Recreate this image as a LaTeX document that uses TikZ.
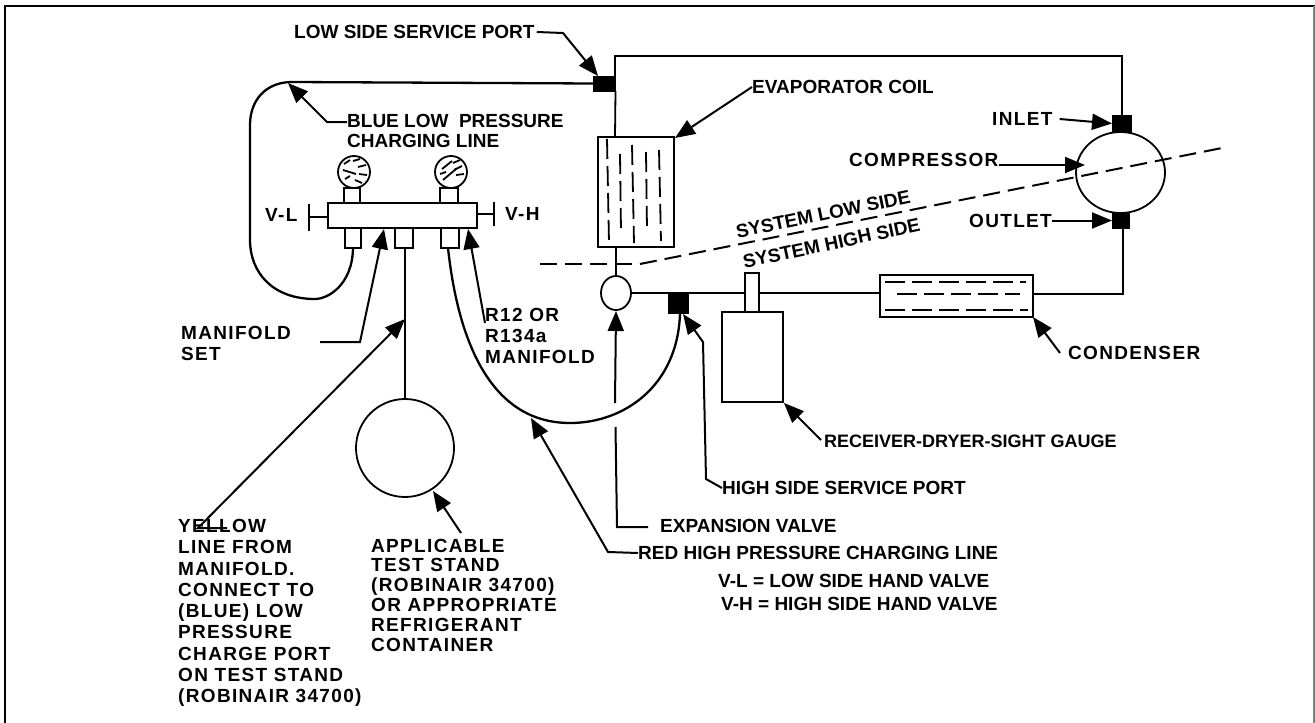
\documentclass[tikz,border=0pt]{standalone}
\usepackage{fontspec}
\setmainfont{Liberation Sans}
\usetikzlibrary{arrows.meta, shapes.geometric, calc}
\tikzset{
  lbl/.style={font=\fontsize{19}{21.3}\selectfont\bfseries, anchor=west, inner sep=0pt, align=left, text=black},
  lblwide/.style={lbl, font=\fontsize{19}{21.3}\selectfont\bfseries\addfontfeature{LetterSpace=7}},
  lbltight/.style={lbl, font=\fontsize{19}{19.8}\selectfont\bfseries\addfontfeature{LetterSpace=7}},
  part/.style={rectangle, draw=black, fill=white, inner sep=0pt, line width=1.8pt},
  port/.style={rectangle, draw=black, fill=black, inner sep=0pt, line width=0pt},
  round/.style={ellipse, draw=black, fill=white, inner sep=0pt, line width=1.8pt},
  pipe/.style={line width=1.8pt, color=black},
  hose/.style={line width=2.3pt, color=black},
  leader/.style={-{Triangle[length=20pt,width=16pt]}, line width=2pt, color=black},
  tick/.style={line width=1.8pt, color=black},
  divide/.style={line width=2pt, color=black, dash pattern=on 17pt off 8pt},
  coil/.style={line width=1.8pt, color=black, dash pattern=on 20pt off 7pt}
}
\begin{document}
\begin{tikzpicture}[x=1pt, y=-1pt]
  \useasboundingbox (0,0) rectangle (1315,723);
  % Frame
  \draw[line width=1.4pt,color=black] (5,723) -- (5,6) -- (1315,6);
  \draw[line width=1.2pt,color=gray] (1314,6) -- (1314,723);

  % Manifold
  \node at (402.5,215.5) [part, minimum width=149pt, minimum height=25pt] (manifold) {};
  \node at (353,238) [part, minimum width=16pt, minimum height=20pt] (nipL) {};
  \node at (404,238) [part, minimum width=18pt, minimum height=20pt] (nipM) {};
  \node at (450,238) [part, minimum width=18pt, minimum height=20pt] (nipR) {};
  \node at (352,195.5) [part, minimum width=16pt, minimum height=15pt] (stemL) {};
  \node at (449,195.5) [part, minimum width=18pt, minimum height=15pt] (stemR) {};
  \node at (354,172) [round, minimum width=32pt, minimum height=32pt] (gaugeL) {};
  \node at (451,172) [round, minimum width=32pt, minimum height=32pt] (gaugeR) {};
  % Gauge marks
  \draw[tick] (343,170) -- (356,174);
  \draw[tick] (344,164) -- (350,160);
  \draw[tick] (353,161) -- (360,159);
  \draw[tick] (358,167) -- (366,165);
  \draw[tick] (359,174) -- (367,175);
  \draw[tick] (345,179) -- (350,176);
  \draw[tick] (355,180) -- (362,183);
  \draw[tick] (442,169) -- (452,161);
  \draw[tick] (453,163) -- (460,160);
  \draw[tick] (454,170) -- (462,166);
  \draw[tick] (443,180) -- (456,169);
  \draw[tick] (456,175) -- (464,174);
  \draw[tick] (440,174) -- (446,172);
  % Hand valves
  \coordinate (vlbar) at (309,217);
  \coordinate (vhbar) at (494,214);
  \draw[pipe] (manifold.west |- vlbar) -- (vlbar);
  \draw[pipe] ($(vlbar)+(0,-13)$) -- ($(vlbar)+(0,14)$);
  \draw[pipe] (manifold.east |- vhbar) -- (vhbar);
  \draw[pipe] ($(vhbar)+(0,-12)$) -- ($(vhbar)+(0,12)$);
  \node at (265,215) [lblwide] (vl) {V-L};
  \node at (505,214) [lblwide] (vh) {V-H};

  % Low side loop
  \node at (604.5,83.5) [port, minimum width=22pt, minimum height=15pt] (lowport) {};
  \node at (1121.5,123.5) [port, minimum width=19pt, minimum height=17pt] (inlet) {};
  \node at (1120.5,220.5) [port, minimum width=17pt, minimum height=15pt] (outlet) {};
  \node at (1120.5,172.5) [round, minimum width=89pt, minimum height=81pt] (compressor) {};
  \node at (636,192) [part, minimum width=76pt, minimum height=110pt] (evap) {};
  \node at (616,293) [round, minimum width=30pt, minimum height=34pt] (valve) {};
  \node at (956.5,296) [part, minimum width=153pt, minimum height=42pt] (condenser) {};
  \node at (752,292.5) [part, minimum width=14pt, minimum height=39pt] (stub) {};
  \node at (752.5,357) [part, minimum width=61pt, minimum height=90pt] (receiver) {};
  \node at (678,303) [port, minimum width=20pt, minimum height=20pt] (highport) {};
  \node at (405,448) [round, minimum width=98pt, minimum height=98pt] (stand) {};

  \draw[pipe] (615,76) -- (615,56) -- (1122,56) -- (inlet.north -| 1122,0);
  \draw[pipe] (lowport.east |- 0,91) -- (615,137);
  \draw[pipe] (616,247) -- (valve.north);
  \draw[pipe] (valve.east) -- (stub.west |- valve.east);
  \draw[pipe] (stub.east |- valve.east) -- (condenser.west |- valve.east);
  \draw[pipe] (condenser.east |- 0,294) -- (1123,294) -- (outlet.south -| 1123,0);

  % Condenser coil
  \draw[coil] (885,282) -- (1026,282);
  \draw[coil] (897,294) -- (1020,294);
  \draw[coil] (885,310) -- (1028,310);
  % Evaporator coil
  \draw[coil] (607,139) -- (609,243);
  \draw[coil] (620,154) -- (621,232);
  \draw[coil] (632,145) -- (634,243);
  \draw[coil] (646,152) -- (647,230);
  \draw[coil] (659,150) -- (661,241);

  % Hoses
  \draw[hose] (nipL.south) .. controls (352,285) and (328,299) .. (315,299)
    .. controls (272,299) and (250,272) .. (250,240) -- (250,125)
    .. controls (250,100) and (266,82) .. (292,82) -- (lowport.west);
  \draw[hose] (448,248) .. controls (458,340) and (490,423) .. (570,423)
    .. controls (625,423) and (678,385) .. (680,313);
  \draw[pipe] (nipM.south -| stand.north) -- (stand.north);

  % Divider
  \draw[divide] (540,264) -- (632,264);
  \draw[divide] (640,264) -- (1227,147);
  \node at (736,232) [lbl, rotate=11.5] (lowside) {SYSTEM LOW SIDE};
  \node at (743,262) [lbl, rotate=12] (highside) {SYSTEM HIGH SIDE};

  % Labels
  \node at (294,32) [lbl] (lowlbl) {LOW SIDE SERVICE PORT};
  \node at (347,131) [lbl, font=\fontsize{19}{19.8}\selectfont\bfseries] (bluelbl) {BLUE LOW\ \ PRESSURE\\CHARGING LINE};
  \node at (752,87) [lbl] (evaplbl) {EVAPORATOR COIL};
  \node at (992,119) [lblwide] (inletlbl) {INLET};
  \node at (849,160) [lblwide] (complbl) {COMPRESSOR};
  \node at (969,221) [lblwide] (outletlbl) {OUTLET};
  \node at (1068,353) [lblwide] (condlbl) {CONDENSER};
  \node at (181,343.5) [lblwide] (setlbl) {MANIFOLD\\SET};
  \node at (485,336) [lblwide] (r12lbl) {R12 OR\\R134a\\MANIFOLD};
  \node at (178,613) [lblwide] (yellowlbl) {YELLOW\\LINE FROM\\MANIFOLD.\\CONNECT TO\\(BLUE) LOW\\PRESSURE\\CHARGE PORT\\ON TEST STAND\\(ROBINAIR 34700)};
  \node at (371,595) [lbltight] (standlbl) {APPLICABLE\\TEST STAND\\(ROBINAIR 34700)\\OR APPROPRIATE\\REFRIGERANT\\CONTAINER};
  \node at (824,441) [lbl, font=\fontsize{18}{20}\selectfont\bfseries] (reclbl) {RECEIVER-DRYER-SIGHT GAUGE};
  \node at (722,488) [lbl] (highlbl) {HIGH SIDE SERVICE PORT};
  \node at (660,526) [lbl] (explbl) {EXPANSION VALVE};
  \node at (638,553) [lbl] (redlbl) {RED HIGH PRESSURE CHARGING LINE};
  \node at (718,581) [lbl] (vllbl) {V-L = LOW SIDE HAND VALVE};
  \node at (721,604) [lbl] (vhlbl) {V-H = HIGH SIDE HAND VALVE};

  % Leaders
  \draw[leader] (lowlbl.east) ++(2,0) -- (563,33) -- (598,76);
  \draw[leader] (bluelbl.west |- 0,122) -- (327,122) -- (288,83);
  \draw[leader] (evaplbl.west) -- (675,138);
  \draw[leader] ($(inletlbl.east)+(7,0)$ |- inlet.west) -- (inlet.west);
  \draw[leader] (outletlbl.east |- outlet.west) -- (outlet.west);
  \draw[leader] (complbl.east |- 0,165) -- (1085,165);
  \draw[leader] (condlbl.west) ++(-8,0) -- (1033,317);
  \draw[leader] (reclbl.west) ++(-3,-1) -- (receiver.south east);
  \draw[leader] (highlbl.west) -- (706,479) -- (703,342) -- (683,314);
  \draw[leader] (648,527) -- (617,527) -- (615.5,427) (615,403) -- (616,311);
  \draw[leader] (redlbl.west) -- (608,552) -- (531,418);
  \draw[leader] (320,342) -- (360,342) -- (384,229);
  \draw[leader] (485,323) -- (468,229);
  \draw[leader] (227,528) -- (198,528) -- (405,319);
  \draw[leader] (461,533) -- (433,491);
\end{tikzpicture}
\end{document}
